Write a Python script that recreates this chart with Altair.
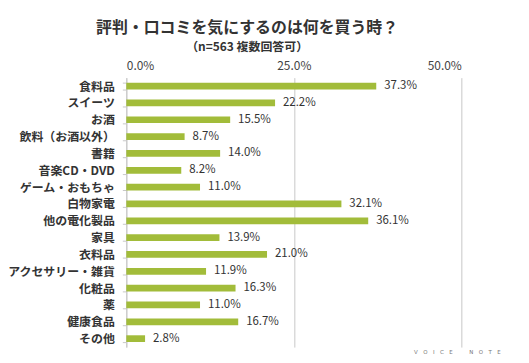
import altair as alt
import pandas as pd

categories = ["食料品", "スイーツ", "お酒", "飲料（お酒以外）", "書籍", "音楽CD・DVD",
              "ゲーム・おもちゃ", "白物家電", "他の電化製品", "家具", "衣料品",
              "アクセサリー・雑貨", "化粧品", "薬", "健康食品", "その他"]
values = [37.3, 22.2, 15.5, 8.7, 14.0, 8.2, 11.0, 32.1, 36.1, 13.9, 21.0,
          11.9, 16.3, 11.0, 16.7, 2.8]
x_ticks = [0, 25, 50]

df = pd.DataFrame({"cat": categories, "val": values,
                   "label": [f"{v:.1f}%" for v in values]})

FONT = "Noto Sans CJK JP"
SP = "\u2003"
logo_text = SP.join("VOICE") + SP * 3 + SP.join("NOTE")

y_enc = alt.Y("cat:N", sort=categories, title=None,
              scale=alt.Scale(paddingInner=0.6, paddingOuter=0.3),
              axis=alt.Axis(labelFont=FONT, labelFontSize=12, labelFontWeight="bold",
                            labelColor="#333333", labelPadding=8,
                            domainColor="#c8c8c8", tickColor="#c8c8c8",
                            tickSize=4, tickBand="extent", ticks=True))
x_enc = alt.X("val:Q", title=None,
              scale=alt.Scale(domain=[0, 50], nice=False),
              axis=alt.Axis(orient="top", values=x_ticks,
                            labelExpr="format(datum.value, '.1f') + '%'",
                            labelFont=FONT, labelFontSize=12, labelColor="#444444",
                            labelPadding=5, ticks=False, domain=False,
                            grid=True, gridColor="#c8c8c8", gridWidth=1))

bars = alt.Chart(df).mark_bar(color="#A2BC3A").encode(x=x_enc, y=y_enc)
labels = alt.Chart(df).mark_text(align="left", dx=8, font=FONT, fontSize=11.5,
                                 color="#333333").encode(
    x="val:Q", y=alt.Y("cat:N", sort=categories), text="label:N")

logo = alt.Chart(pd.DataFrame({"t": [logo_text]})).mark_text(
    font="DejaVu Sans", fontSize=5.5, color="#777777", align="center").encode(
    x=alt.value(333), y=alt.value(276), text="t:N")

chart = alt.layer(bars, labels, logo).properties(
    width=337, height=271,
    padding={"left": 119, "top": 69, "right": 60, "bottom": 20},
    autosize=alt.AutoSizeParams(type="none"),
    title=alt.TitleParams(
        text="評判・口コミを気にするのは何を買う時？",
        subtitle="（n=563 複数回答可）",
        font=FONT, fontSize=16, fontWeight="bold", color="#333333",
        subtitleFont=FONT, subtitleFontSize=12, subtitleColor="#333333",
        subtitleFontWeight="bold", subtitlePadding=6,
        anchor="middle", dx=-47, offset=7),
).configure_view(stroke=None).configure_axisY(grid=False)

chart.save("out.html", embed_options={"renderer": "svg", "actions": False})
